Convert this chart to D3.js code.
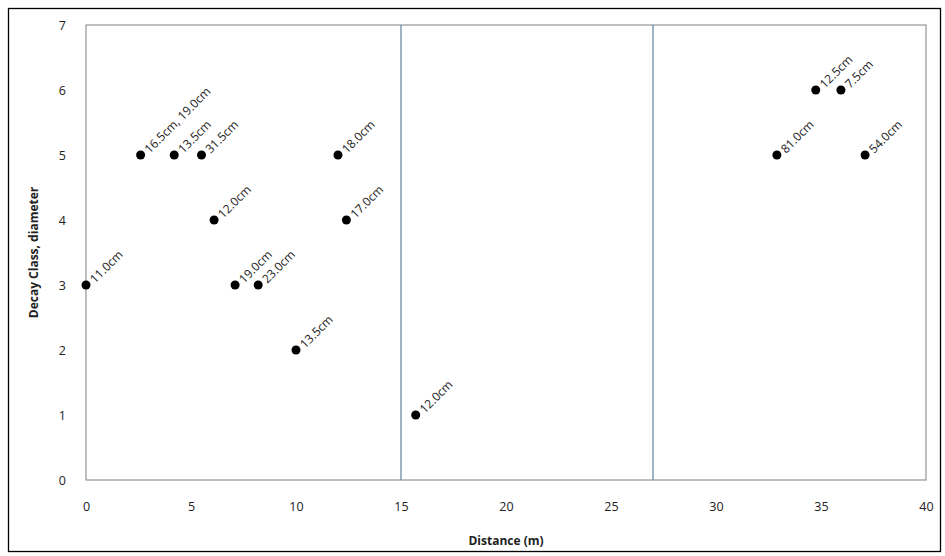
<!DOCTYPE html>
<html>
<head>
<meta charset="utf-8">
<script src="https://cdn.jsdelivr.net/npm/d3@7"></script>
<style>
  body { margin: 0; background: #fff; }
  svg { display: block; }
</style>
</head>
<body>
<svg id="chart" width="945" height="556"></svg>
<script>
const distances = [0, 2.6, 4.2, 5.5, 6.1, 7.1, 8.2, 10.0, 12.0, 12.4, 15.7, 32.9, 34.75, 35.95, 37.1];
const decayClass = [3, 5, 5, 5, 4, 3, 3, 2, 5, 4, 1, 5, 6, 6, 5];
const diameterLabels = ["11.0cm", "16.5cm, 19.0cm", "13.5cm", "31.5cm", "12.0cm", "19.0cm", "23.0cm", "13.5cm", "18.0cm", "17.0cm", "12.0cm", "81.0cm", "12.5cm", "7.5cm", "54.0cm"];
const xTicks = [0, 5, 10, 15, 20, 25, 30, 35, 40];
const yTicks = [0, 1, 2, 3, 4, 5, 6, 7];
const referenceLines = [15, 27];

const svg = d3.select("#chart");
const font = "'Open Sans', 'DejaVu Sans', sans-serif";
const margin = { left: 86, right: 945 - 926, top: 25, bottom: 556 - 480 };
const W = 945, H = 556;

const x = d3.scaleLinear().domain([0, 40]).range([margin.left, W - margin.right]);
const y = d3.scaleLinear().domain([0, 7]).range([H - margin.bottom, margin.top]);

// outer border
svg.append("rect").attr("x", 8.5).attr("y", 8.5).attr("width", 932).attr("height", 543)
  .attr("fill", "none").attr("stroke", "#000").attr("stroke-width", 1.3);

// plot frame
svg.append("rect")
  .attr("x", x(0)).attr("y", y(7))
  .attr("width", x(40) - x(0)).attr("height", y(0) - y(7))
  .attr("fill", "none").attr("stroke", "#808080").attr("stroke-width", 1);

// reference vertical lines
svg.selectAll("line.ref").data(referenceLines).enter().append("line")
  .attr("class", "ref")
  .attr("x1", d => x(d)).attr("x2", d => x(d))
  .attr("y1", y(0)).attr("y2", y(7))
  .attr("stroke", "#5b84a0").attr("stroke-width", 1.2);

// axes
const xAxis = d3.axisBottom(x).tickValues(xTicks).tickFormat(d3.format("d")).tickSize(0).tickPadding(22);
const gx = svg.append("g").attr("transform", `translate(0,${y(0)})`).call(xAxis);
gx.select(".domain").remove();
gx.selectAll("text").attr("font-family", font).attr("font-size", 12.5).attr("fill", "#222");

const yAxis = d3.axisLeft(y).tickValues(yTicks).tickFormat(d3.format("d")).tickSize(0).tickPadding(20);
const gy = svg.append("g").attr("transform", `translate(${x(0)},0)`).call(yAxis);
gy.select(".domain").remove();
gy.selectAll("text").attr("font-family", font).attr("font-size", 12.5).attr("fill", "#222");

// axis titles
svg.append("text").attr("x", (x(0) + x(40)) / 2).attr("y", 545)
  .attr("text-anchor", "middle").attr("font-family", font).attr("font-weight", "bold")
  .attr("font-size", 12).attr("fill", "#222").text("Distance (m)");
svg.append("text").attr("transform", `translate(38,${(y(0) + y(7)) / 2}) rotate(-90)`)
  .attr("text-anchor", "middle").attr("font-family", font).attr("font-weight", "bold")
  .attr("font-size", 12).attr("fill", "#222").text("Decay Class, diameter");

const data = distances.map((d, i) => ({ x: d, y: decayClass[i], label: diameterLabels[i] }));

// points
svg.selectAll("circle.pt").data(data).enter().append("circle")
  .attr("class", "pt")
  .attr("cx", d => x(d.x)).attr("cy", d => y(d.y)).attr("r", 4.5)
  .attr("fill", "#000");

// labels
svg.selectAll("text.lbl").data(data).enter().append("text")
  .attr("class", "lbl")
  .attr("transform", d => `translate(${x(d.x) + 9},${y(d.y) - 1}) rotate(-45)`)
  .attr("font-family", font).attr("font-size", 12).attr("fill", "#222")
  .text(d => d.label);
</script>
</body>
</html>
